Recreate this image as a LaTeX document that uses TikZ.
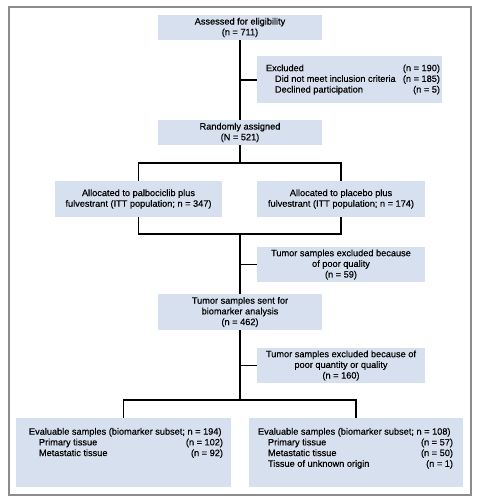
\documentclass[tikz,border=0pt]{standalone}
\usepackage{fontspec}
\setmainfont{Liberation Sans}
\newfontfamily\medfont{Liberation Sans}[FakeBold=0.35]
\definecolor{boxfill}{HTML}{D7E0EE}
\definecolor{framegray}{HTML}{8C8C8C}
\begin{document}
\begin{tikzpicture}[x=1pt,y=-1pt,
  font=\medfont\fontsize{9.2}{10.7}\selectfont,
  box/.style={fill=boxfill, draw=none, inner sep=0pt, align=center},
  conn/.style={line width=1.5pt, black},
  ]
\useasboundingbox (0,0) rectangle (477,499);
\draw[framegray, line width=1.2pt] (9,7) rectangle (471,495);

\node[box, minimum width=164pt, minimum height=25pt] (assess) at (240,27.5)
  {Assessed for eligibility\\(n = 711)};
\node[box, minimum width=185pt, minimum height=47pt] (excl) at (349.5,79.5)
  {\hspace*{9pt}\parbox{174pt}{Excluded\hfill(n = 190)\\
   \hspace*{9pt}Did not meet inclusion criteria\hfill(n = 185)\\
   \hspace*{9pt}Declined participation\hfill(n = 5)}\hspace*{2pt}};
\node[box, minimum width=164pt, minimum height=25pt] (rand) at (240,132.5)
  {Randomly assigned\\(N = 521)};
\node[box, minimum width=167pt, minimum height=36pt] (allocL) at (138.5,199)
  {Allocated to palbociclib plus\\fulvestrant (ITT population; n = 347)};
\node[box, minimum width=168pt, minimum height=36pt] (allocR) at (341,199)
  {Allocated to placebo plus\\fulvestrant (ITT population; n = 174)};
\node[box, minimum width=168pt, minimum height=35pt] (ex59) at (341,264.5)
  {Tumor samples excluded because\\of poor quality\\(n = 59)};
\node[box, minimum width=164pt, minimum height=36pt] (sent) at (240,312)
  {Tumor samples sent for\\biomarker analysis\\(n = 462)};
\node[box, minimum width=168pt, minimum height=35pt] (ex160) at (341,365.5)
  {Tumor samples excluded because of\\poor quantity or quality\\(n = 160)};
\node[box, minimum width=215pt, minimum height=69pt] (evalL) at (123.5,452.5)
  {\hspace*{13pt}\parbox[c][49pt][t]{194pt}{Evaluable samples (biomarker subset; n = 194)\\
   \hspace*{10pt}Primary tissue\hfill(n = 102)\\
   \hspace*{10pt}Metastatic tissue\hfill(n = 92)}\hspace*{8pt}};
\node[box, minimum width=214pt, minimum height=69pt] (evalR) at (356,452.5)
  {\hspace*{9pt}\parbox[c][49pt][t]{195pt}{Evaluable samples (biomarker subset; n = 108)\\
   \hspace*{10pt}Primary tissue\hfill(n = 57)\\
   \hspace*{10pt}Metastatic tissue\hfill(n = 50)\\
   \hspace*{10pt}Tissue of unknown origin\hfill(n = 1)}\hspace*{10pt}};

% junction coordinates
\coordinate (jx1) at (240,80);
\coordinate (j1) at (240,163);
\coordinate (j2) at (240,234);
\coordinate (jx2) at (240,264.5);
\coordinate (jx3) at (240,365.5);
\coordinate (j3) at (240,400);

\draw[conn] (assess.south) -- (rand.north);
\draw[conn] (jx1) -- (excl.west |- jx1);
\draw[conn] (rand.south) -- (j1);
\draw[conn] (allocL.north) -- (allocL.north |- j1) -- (allocR.north |- j1) -- (allocR.north);
\draw[conn] (allocL.south) -- (allocL.south |- j2) -- (allocR.south |- j2) -- (allocR.south);
\draw[conn] (j2) -- (sent.north);
\draw[conn] (jx2) -- (ex59.west);
\draw[conn] (sent.south) -- (j3);
\draw[conn] (jx3) -- (ex160.west);
\draw[conn] (evalL.north) -- (evalL.north |- j3) -- (evalR.north |- j3) -- (evalR.north);
\end{tikzpicture}
\end{document}
